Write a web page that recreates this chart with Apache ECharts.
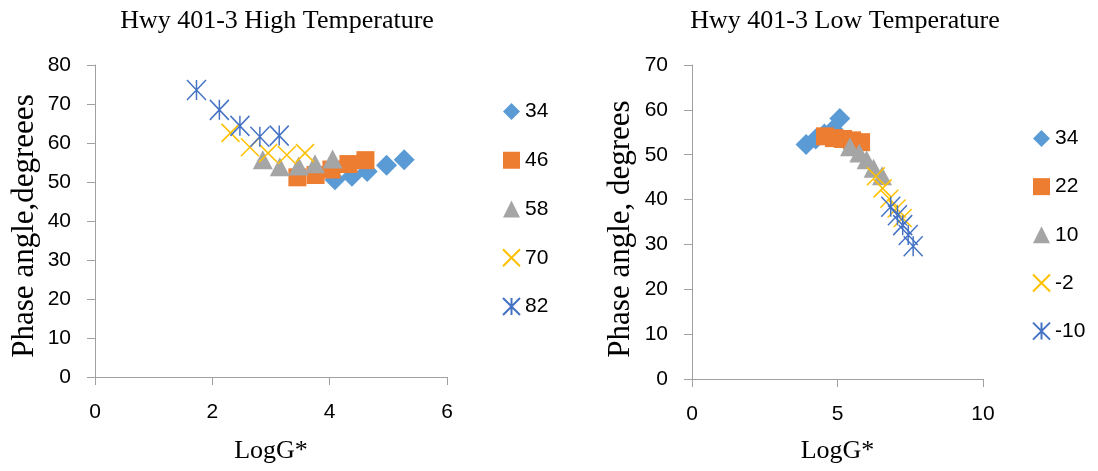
<!DOCTYPE html>
<html><head><meta charset="utf-8">
<script src="https://cdn.jsdelivr.net/npm/echarts@6/dist/echarts.min.js"></script>
<style>html,body{margin:0;padding:0;background:#fff}#c{width:1098px;height:471px}</style>
</head><body><div id="c"></div>
<script>
// High temperature chart (x = LogG*, y = phase angle)
const hiNames = ['34','46','58','70','82'];
const hi34 = [[4.09,50.6],[4.38,51.5],[4.64,52.7],[4.97,54.3],[5.27,55.7]];
const hi46 = [[3.45,51.2],[3.76,51.8],[4.03,53.2],[4.32,54.6],[4.61,55.6]];
const hi58 = [[2.86,55.7],[3.15,53.9],[3.47,54.1],[3.75,54.7],[4.05,55.9]];
const hi70 = [[2.31,62.6],[2.64,58.9],[2.95,57.4],[3.27,56.9],[3.58,57.4]];
const hi82 = [[1.73,73.6],[2.12,68.5],[2.47,64.4],[2.81,61.6],[3.14,61.9]];
// Low temperature chart
const loNames = ['34','22','10','-2','-10'];
const lo34 = [[3.92,52.3],[4.25,53.5],[4.55,54.6],[4.85,55.6],[5.08,58.1]];
const lo22 = [[4.57,54.1],[4.88,53.7],[5.19,53.5],[5.50,53.2],[5.81,52.8]];
const lo10 = [[5.43,51.8],[5.75,50.4],[6.00,48.9],[6.24,47.0],[6.53,45.3]];
const loM2 = [[6.32,45.2],[6.55,42.5],[6.78,40.2],[7.03,38.0],[7.24,35.9]];
const loM10 = [[6.83,38.4],[7.06,36.5],[7.24,34.3],[7.43,32.1],[7.60,29.6]];

const hiTicksX = {min:0,max:6,interval:2};
const hiTicksY = {min:0,max:80,interval:10};
const loTicksX = {min:0,max:10,interval:5};
const loTicksY = {min:0,max:70,interval:10};

const CROSS = 'path://M0,0L10,10M10,0L0,10';
const STAR = 'path://M0,0L10,10M10,0L0,10M5,0L5,10';
const styles = [
  {symbol:'diamond', symbolSize:21, itemStyle:{color:'#5B9BD5', opacity:1}},
  {symbol:'rect', symbolSize:18, itemStyle:{color:'#ED7D31', opacity:1}},
  {symbol:'triangle', symbolSize:[20,19], itemStyle:{color:'#A5A5A5', opacity:1}},
  {symbol:CROSS, symbolSize:18, itemStyle:{color:'rgba(0,0,0,0)', borderColor:'#FFC000', borderWidth:1.5, opacity:1}},
  {symbol:STAR, symbolSize:[19,20], itemStyle:{color:'rgba(0,0,0,0)', borderColor:'#4472C4', borderWidth:1.5, opacity:1}}
];
function mk(name, data, i, idx){
  return Object.assign({type:'scatter', name:name, data:data, xAxisIndex:idx, yAxisIndex:idx,
    emphasis:{disabled:true}, animation:false}, styles[i]);
}
const lineC = '#A0A0A0';
function axis(extra, margin){
  return Object.assign({
    type:'value',
    axisLine:{show:true, onZero:false, lineStyle:{color:lineC, width:1}},
    axisTick:{show:true, length:8, lineStyle:{color:lineC}},
    splitLine:{show:false},
    axisLabel:{color:'#000', fontSize:21, fontFamily:'Liberation Sans', margin:margin},
    nameLocation:'middle',
    nameTextStyle:{color:'#000', fontSize:26, fontFamily:'Liberation Serif'}
  }, extra);
}
const serif = {color:'#000', fontSize:26, fontFamily:'Liberation Serif', fontWeight:'normal'};
const legText = {color:'#000', fontSize:21, fontFamily:'Liberation Sans', lineHeight:20};
const option = {
  backgroundColor:'#fff',
  animation:false,
  title:[
    {text:'Hwy 401-3 High Temperature', left:272, top:3, textAlign:'center', textStyle:serif},
    {text:'Hwy 401-3 Low Temperature', left:840, top:3, textAlign:'center', textStyle:serif}
  ],
  grid:[
    {left:95, right:651, top:65, bottom:94},
    {left:692, right:115, top:65, bottom:92}
  ],
  xAxis:[
    axis(Object.assign({gridIndex:0, name:'LogG*', nameGap:61}, hiTicksX), 25),
    axis(Object.assign({gridIndex:1, name:'LogG*', nameGap:59}, loTicksX), 25)
  ],
  yAxis:[
    axis(Object.assign({gridIndex:0, name:'Phase angle,degreees', nameGap:55,
      nameTextStyle:{color:'#000', fontSize:31, fontFamily:'Liberation Serif', padding:[0,10,0,0]}}, hiTicksY), 24),
    axis(Object.assign({gridIndex:1, name:'Phase angle, degrees', nameGap:56,
      nameTextStyle:{color:'#000', fontSize:31, fontFamily:'Liberation Serif', padding:[0,14,0,0]}}, loTicksY), 24)
  ],
  legend:[
    {data:hiNames, orient:'vertical', left:502, top:101, padding:0, itemWidth:17, itemHeight:17, itemGap:27.75,
     textStyle:legText, selectedMode:false},
    {data:loNames, orient:'vertical', left:1032, top:128, padding:0, itemWidth:17, itemHeight:17, itemGap:27.15,
     textStyle:legText, selectedMode:false}
  ],
  series:[
    mk(hiNames[0], hi34, 0, 0), mk(hiNames[1], hi46, 1, 0), mk(hiNames[2], hi58, 2, 0),
    mk(hiNames[3], hi70, 3, 0), mk(hiNames[4], hi82, 4, 0),
    mk(loNames[0], lo34, 0, 1), mk(loNames[1], lo22, 1, 1), mk(loNames[2], lo10, 2, 1),
    mk(loNames[3], loM2, 3, 1), mk(loNames[4], loM10, 4, 1)
  ]
};
echarts.init(document.getElementById('c'), null, {renderer:'canvas'}).setOption(option);
</script></body></html>
